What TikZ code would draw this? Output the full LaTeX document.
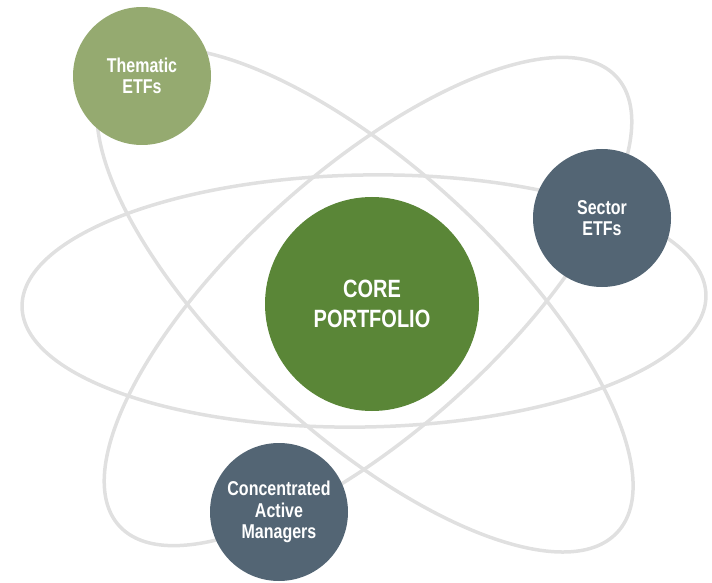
\documentclass[tikz,border=0pt]{standalone}
\usepackage{fontspec}
\newfontfamily\labelfont[FakeStretch=0.8]{Liberation Sans}
\definecolor{orbitgrey}{HTML}{E0E0E0}
\definecolor{coregreen}{HTML}{5A8637}
\definecolor{sagegreen}{HTML}{95AA70}
\definecolor{slateblue}{HTML}{536574}
\begin{document}
\begin{tikzpicture}[x=1pt,y=1pt,
  orbit/.style={draw=orbitgrey, line width=3.5pt},
  hub/.style={circle, inner sep=0pt, minimum size=214pt, fill=coregreen,
    text=white, align=center,
    font=\labelfont\bfseries\fontsize{25}{30}\selectfont},
  satellite/.style={circle, inner sep=0pt, minimum size=138pt,
    text=white, align=center,
    font=\labelfont\bfseries\fontsize{20}{21.5}\selectfont}]
  \useasboundingbox (0,0) rectangle (712,582);

  % three orbits
  \draw[orbit, rotate around={1:(364,281)}] (364,281) ellipse [x radius=342, y radius=126];
  \draw[orbit, rotate around={-42.6:(365,282)}] (365,282) ellipse [x radius=343, y radius=133];
  \draw[orbit, rotate around={42:(368,280.5)}] (368,280.5) ellipse [x radius=335, y radius=130];

  % nucleus and satellites
  \node[hub] (core) at (372,278) {CORE\\PORTFOLIO};
  \node[satellite, fill=sagegreen] (thematic) at (142,506) {Thematic\\ETFs};
  \node[satellite, fill=slateblue] (sector) at (602,364) {Sector\\ETFs};
  \node[satellite, fill=slateblue] (active) at (279,70) {Concentrated\\Active\\Managers};
\end{tikzpicture}
\end{document}
